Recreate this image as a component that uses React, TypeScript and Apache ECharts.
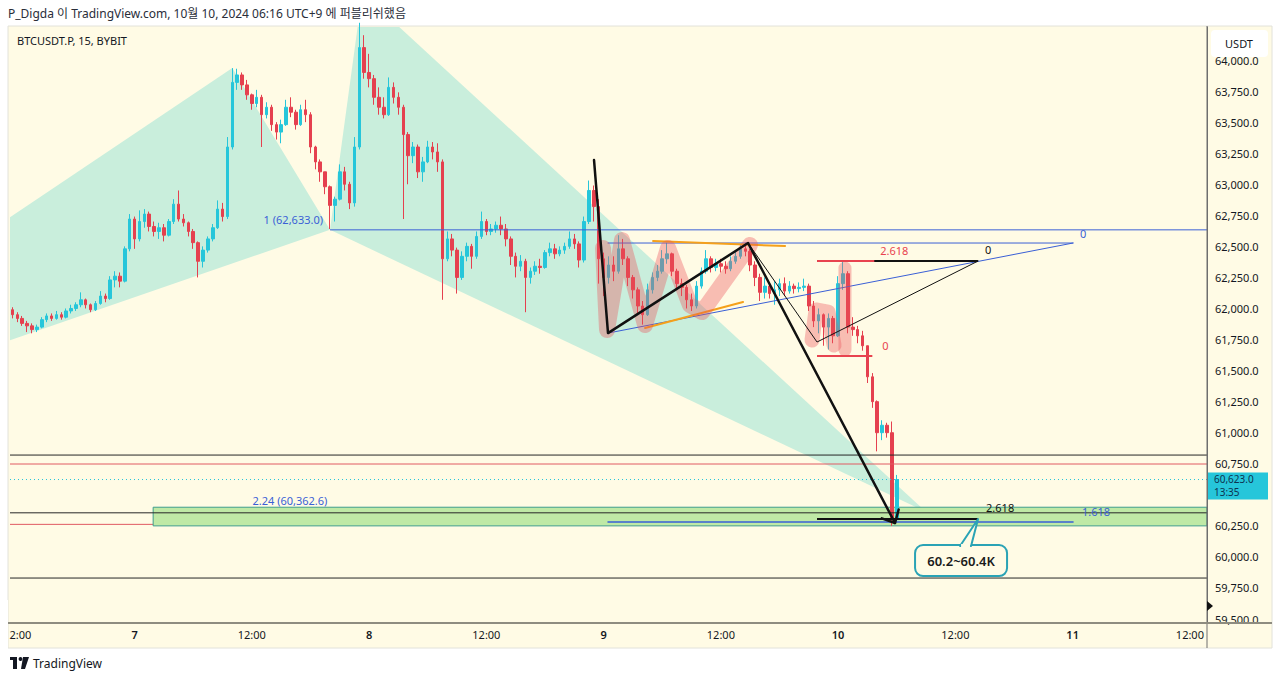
import React, { useEffect, useRef } from "react";
import * as echarts from "echarts";

// ---------- DATA (30-minute candles, hours counted from Oct 6 00:00, UTC+9) ----------
const firstOpen = 61990;
const closes = [
  61950, 61920, 61880, 61860, 61830, 61850, 61910, 61940, 61920, 61950,
  61930, 61980, 62000, 62030, 62070, 62030, 61990, 62040, 62100, 62080,
  62230, 62260, 62220, 62480, 62720, 62560, 62700, 62760, 62660, 62620,
  62650, 62590, 62700, 62840, 62720, 62690, 62620, 62530, 62380, 62470,
  62560, 62650, 62800, 62740, 63300, 63820, 63880, 63800, 63720, 63650,
  63700, 63560, 63620, 63480, 63420, 63480, 63620, 63580, 63480, 63600,
  63560, 63300, 63180, 63100, 62980, 62830, 62880, 63100, 63000, 62850,
  63300, 64100, 63900, 63850, 63700, 63620, 63560, 63780, 63700, 63620,
  63400, 63230, 63300, 63100, 63180, 63300, 63260, 63180, 62400, 62560,
  62470, 62250, 62420, 62500, 62420, 62580, 62700, 62620, 62640, 62670,
  62640, 62560, 62420, 62340, 62380, 62250, 62300, 62340, 62330, 62450,
  62480, 62440, 62470, 62500, 62560, 62520, 62390, 62700, 62950, 62820,
  62400, 62250, 62350, 62300, 62480, 62400, 62250, 62150, 62020, 61950,
  62150, 62250, 62300, 62400, 62440, 62300, 62200, 62170, 62070, 62020,
  62180, 62300, 62400, 62330, 62360, 62340, 62320, 62380, 62420, 62480,
  62460, 62350, 62250, 62130, 62180, 62120, 62150, 62200, 62140, 62180,
  62160, 62170, 62180, 62020, 61900, 61950, 61850, 61920, 61780, 62200,
  62280, 61850, 61830, 61780, 61700, 61450, 61250, 61000, 61060, 61000,
  60300, 60623,
];
const lows = [
  61920, 61890, 61860, 61810, 61800, 61810, 61840, 61890, 61900, 61910,
  61910, 61920, 61960, 61980, 62010, 62000, 61970, 61980, 62030, 62050,
  62070, 62170, 62170, 62210, 62460, 62480, 62540, 62650, 62620, 62580,
  62560, 62540, 62580, 62680, 62700, 62660, 62580, 62480, 62250, 62330,
  62450, 62540, 62640, 62700, 62720, 63280, 63760, 63760, 63680, 63600,
  63620, 63300, 63530, 63430, 63360, 63330, 63470, 63540, 63440, 63470,
  63500, 63250, 63120, 63020, 62920, 62640, 62700, 62870, 62950, 62800,
  62820, 63280, 63850, 63780, 63640, 63560, 63530, 63550, 63650, 63560,
  62720, 63000, 63170, 63050, 63020, 63170, 63200, 63100, 62070, 62380,
  62420, 62120, 62230, 62380, 62320, 62400, 62560, 62590, 62590, 62610,
  62590, 62500, 62350, 62250, 62300, 61970, 62200, 62270, 62280, 62320,
  62420, 62400, 62420, 62440, 62480, 62480, 62330, 62370, 62680, 62700,
  62200, 62100, 62200, 62220, 62280, 62350, 62180, 62080, 61950, 61870,
  61940, 62120, 62220, 62280, 62360, 62260, 62150, 62100, 62000, 61980,
  62000, 62160, 62280, 62290, 62300, 62290, 62280, 62300, 62360, 62400,
  62420, 62300, 62180, 62060, 62080, 62080, 62030, 62100, 62100, 62120,
  62120, 62130, 62140, 61980, 61850, 61800, 61700, 61670, 61720, 61770,
  62150, 61800, 61780, 61720, 61660, 61400, 61200, 60850, 60940, 60960,
  60250, 60280,
];
const highs = [
  62010, 61970, 61940, 61900, 61880, 61870, 61930, 61960, 61960, 61980,
  61970, 62000, 62030, 62050, 62130, 62080, 62040, 62060, 62140, 62120,
  62260, 62300, 62290, 62500, 62760, 62740, 62790, 62800, 62780, 62700,
  62690, 62680, 62720, 62880, 62950, 62760, 62700, 62640, 62540, 62500,
  62580, 62680, 62870, 62850, 63380, 63935, 63930, 63900, 63840, 63730,
  63760, 63720, 63660, 63640, 63500, 63520, 63680, 63700, 63600, 63640,
  63680, 63580, 63310, 63200, 63100, 62990, 62900, 63160, 63140, 63020,
  63380, 64300, 64200, 64050, 63880, 63780, 63700, 63860, 63820, 63740,
  63640, 63420, 63340, 63320, 63220, 63350, 63340, 63330, 63200, 62620,
  62600, 62490, 62460, 62530, 62520, 62620, 62780, 62720, 62680, 62700,
  62740, 62680, 62580, 62450, 62430, 62400, 62330, 62380, 62400, 62470,
  62530, 62520, 62500, 62530, 62620, 62600, 62540, 62740, 63030, 62990,
  62880, 62450, 62420, 62420, 62590, 62560, 62420, 62270, 62170, 62060,
  62200, 62290, 62350, 62470, 62530, 62450, 62320, 62240, 62190, 62120,
  62220, 62330, 62470, 62420, 62400, 62400, 62380, 62420, 62470, 62510,
  62530, 62480, 62380, 62280, 62250, 62200, 62220, 62240, 62250, 62220,
  62200, 62210, 62240, 62200, 62060, 62000, 61960, 61960, 61940, 62260,
  62380, 62300, 61930, 61860, 61820, 61700, 61480, 61260, 61100, 61080,
  61090, 60660,
];

const slotStart = 11.5; // first slot: Oct 6 11:30
const slotStep = 0.5; // 30 minutes
const slotCount = 245; // axis runs to Oct 11 13:30
// 60,500 is hidden behind the last-price label in the reference
const priceTicks = [
  59500, 59750, 60000, 60250, 60750, 61000, 61250, 61500, 61750,
  62000, 62250, 62500, 62750, 63000, 63250, 63500, 63750, 64000,
];
const lastPrice = 60623.0;
const countdown = "13:35";

// drawn levels (price)
const fibOneLevel = 62633.0;
const fibExtLevel = 60362.6;
const zoneLow = 60250;
const zoneHigh = 60400;
const blackLevels = [60820, 60355, 59830];
const redLevels = [60748];
const redLowLevel = 60262;

// drawing anchors [hours, price]
const ptX = [-27.3, 60700];
const ptA = [34.0, 63935];
const ptB = [44.0, 62633];
const ptC = [47.3, 64540];
const ptD = [105.0, 60362.6];
const zigzag = [
  [71.02, 63195],
  [72.45, 61802],
  [86.78, 62527],
  [101.82, 60273],
];
const triLow = [72.45, 61802];
const triHigh = [120.04, 62527];
const triBottom = 60281;
const orangeTop = [
  [77.06, 62543],
  [90.57, 62503],
];
const orangeBottom = [
  [76.24, 61843],
  [86.27, 62052],
];
const pinkWave = [
  [71.94, 62487],
  [72.35, 61827],
  [73.88, 62551],
  [76.24, 61867],
  [78.59, 62487],
  [80.84, 62028],
  [82.07, 61971],
  [86.98, 62511],
];
const pinkBlob = [
  [93.33, 61746],
  [93.74, 61988],
  [94.97, 61971],
  [95.58, 61706],
];
const pinkBar = [
  [96.7, 62326],
  [96.7, 61666],
];
const smallTri = [
  [86.78, 62527],
  [93.84, 61730],
  [110.32, 62382],
];
const redFibTop = 62382;
const redFibBottom = 61617;
const redFibEnd = 99.7;
const blackFibStart = 93.84;
const blackFibEnd = 110.32;
const blackFibTop = 62382;
const blackFibBottom = 60305;

// ---------- helpers ----------
const BG = "#fffbe5";
const MINT = "#c9eedc";
const BLUE = "#3a5fd6";
const FONT = "'Noto Sans', 'Noto Sans CJK KR', sans-serif";
const xMin = slotStart - slotStep / 2;
const xMax = slotStart + slotStep * (slotCount - 1) + slotStep / 2;
const yMin = 59468;
const yMax = 64266;

const fmtPrice = (v: number) =>
  v.toLocaleString("en-US", { minimumFractionDigits: 1, maximumFractionDigits: 1 });

const timeLabel = (t: number) => {
  const m = ((t % 24) + 24) % 24;
  if (m === 0) return "{d|" + (6 + Math.round(t / 24)) + "}";
  if (m === 12) return "12:00";
  return "";
};

function txt(x: number, y: number, text: string, fill: string, align = "left", size = 11, weight = "normal") {
  return {
    type: "text",
    x,
    y,
    style: {
      text,
      fill,
      font: `${weight} ${size}px ${FONT}`,
      align,
      verticalAlign: "middle",
      textAlign: align,
      textVerticalAlign: "middle",
    },
  };
}

export default function App() {
  const ref = useRef<HTMLDivElement>(null);

  useEffect(() => {
    if (!ref.current) return;
    const chart = echarts.init(ref.current, null, { renderer: "svg" });

    const categories = Array.from({ length: slotCount }, (_, i) => String(slotStart + i * slotStep));
    const candles = closes.map((c, i) => [i === 0 ? firstOpen : closes[i - 1], c, lows[i], highs[i]]);

    const renderFills = (params: any, api: any) => {
      const c = (p: number[]) => api.coord(p);
      const z0 = c([xMin, zoneHigh]);
      const z1 = c([xMax, zoneLow]);
      const zs = c([25.9, zoneHigh]);
      const r0 = c([xMin, redLowLevel]);
      const r1 = c([xMax, redLowLevel]);
      return {
        type: "group",
        children: [
          { type: "polygon", shape: { points: [ptX, ptA, ptB].map(c) }, style: { fill: MINT } },
          { type: "polygon", shape: { points: [ptB, ptC, ptD].map(c) }, style: { fill: MINT } },
          { type: "line", shape: { x1: r0[0], y1: r0[1], x2: r1[0], y2: r1[1] }, style: { stroke: "#e05a62", lineWidth: 1 } },
          {
            type: "rect",
            shape: { x: zs[0], y: z0[1], width: z1[0] - zs[0], height: z1[1] - z0[1] },
            style: { fill: "#bfe9a6", stroke: "#3f9d8c", lineWidth: 1 },
          },
        ],
      };
    };

    const renderLines = (params: any, api: any) => {
      const c = (p: number[]) => api.coord(p);
      const ch: any[] = [];
      const poly = (pts: number[][], stroke: string, lw: number, extra: any = {}) =>
        ch.push({
          type: "polyline",
          shape: { points: pts.map(c) },
          style: { stroke, lineWidth: lw, fill: null, lineCap: "round", lineJoin: "round", ...extra },
        });
      // full-width horizontal levels
      blackLevels.forEach((p) => poly([[xMin, p], [xMax, p]], "#262626", 1, { lineCap: "butt" }));
      redLevels.forEach((p) => poly([[xMin, p], [xMax, p]], "#e05a62", 1, { lineCap: "butt" }));
      poly([[xMin, lastPrice], [xMax, lastPrice]], "#26c6da", 1, { lineDash: [1, 3], lineCap: "butt" });
      // fib "1" line
      poly([[ptB[0], fibOneLevel], [xMax, fibOneLevel]], BLUE, 1, { lineCap: "butt" });
      const bP = c([ptB[0], fibOneLevel]);
      ch.push(txt(bP[0] - 7, bP[1] - 10, "1 (62,633.0)", BLUE, "right"));
      const eP = c([39.9, fibExtLevel]);
      ch.push(txt(eP[0], eP[1] - 11, "2.24 (60,362.6)", BLUE, "center"));
      // blue triangle
      poly([triLow, triHigh], BLUE, 1);
      poly([[triLow[0], triHigh[1]], triHigh], BLUE, 1);
      poly([[triLow[0], triBottom], [triHigh[0], triBottom]], BLUE, 1.5);
      const tH = c(triHigh);
      ch.push(txt(tH[0] + 7, tH[1] - 10, "0", BLUE, "left"));
      const tB = c([triHigh[0], triBottom]);
      ch.push(txt(tB[0] + 9, tB[1] - 11, "1.618", BLUE, "left"));
      // orange lines
      poly(orangeTop, "#f5a01a", 2);
      poly(orangeBottom, "#f5a01a", 2);
      // pink highlighter
      poly(pinkWave, "rgba(236, 80, 90, 0.36)", 16);
      poly(pinkBlob, "rgba(236, 80, 90, 0.36)", 15);
      poly(pinkBar, "rgba(236, 80, 90, 0.36)", 13);
      // black zigzag with arrow
      poly(zigzag, "#111111", 2.5);
      const tip = c(zigzag[3]);
      const prev = c(zigzag[2]);
      const dx = tip[0] - prev[0];
      const dy = tip[1] - prev[1];
      const len = Math.hypot(dx, dy);
      const bx = -dx / len;
      const by = -dy / len;
      const wing = (a: number) => [tip[0] + 14 * (bx * Math.cos(a) - by * Math.sin(a)), tip[1] + 14 * (bx * Math.sin(a) + by * Math.cos(a))];
      ch.push({
        type: "polyline",
        shape: { points: [wing(0.75), tip, wing(-0.75)] },
        style: { stroke: "#111111", lineWidth: 2.5, fill: null, lineCap: "round", lineJoin: "round" },
      });
      // thin black triangle
      poly(smallTri, "#111111", 1);
      // black fib lines
      poly([[blackFibStart, blackFibTop], [blackFibEnd, blackFibTop]], "#111111", 2, { lineCap: "butt" });
      poly([[blackFibStart, blackFibBottom], [blackFibEnd, blackFibBottom]], "#111111", 2, { lineCap: "butt" });
      // red fib lines
      poly([[blackFibStart, redFibTop], [redFibEnd, redFibTop]], "#e8434f", 2, { lineCap: "butt" });
      poly([[blackFibStart, redFibBottom], [redFibEnd - 0.2, redFibBottom]], "#e8434f", 2, { lineCap: "butt" });
      const rT = c([redFibEnd, redFibTop]);
      ch.push(txt(rT[0] + 6, rT[1] - 11, "2.618", "#e8434f", "left"));
      const rB = c([redFibEnd, redFibBottom]);
      ch.push(txt(rB[0] + 8, rB[1] - 11, "0", "#e8434f", "left"));
      const kT = c([blackFibEnd, blackFibTop]);
      ch.push(txt(kT[0] + 7, kT[1] - 12, "0", "#111111", "left"));
      const kB = c([blackFibEnd, blackFibBottom]);
      ch.push(txt(kB[0] + 8, kB[1] - 12, "2.618", "#111111", "left"));
      // callout
      const bxl = kB[0] - 63;
      const byt = kB[1] + 26;
      ch.push({
        type: "rect",
        shape: { x: bxl, y: byt, width: 92, height: 31, r: 8 },
        style: { fill: BG, stroke: "#2aa3b5", lineWidth: 2 },
      });
      ch.push({
        type: "polygon",
        shape: { points: [[kB[0] - 18, byt + 1], kB, [kB[0] - 7, byt + 1]] },
        style: { fill: BG, stroke: "#2aa3b5", lineWidth: 2, lineJoin: "round" },
      });
      ch.push({
        type: "rect",
        shape: { x: kB[0] - 17, y: byt - 1, width: 9, height: 4 },
        style: { fill: BG },
      });
      ch.push(txt(bxl + 46, byt + 16, "60.2~60.4K", "#1b1b1b", "center", 13, "600"));
      return { type: "group", children: ch };
    };

    chart.setOption({
      animation: false,
      backgroundColor: "transparent",
      textStyle: { fontFamily: FONT },
      grid: { left: 10, right: 73, top: 27, bottom: 58, containLabel: false },
      xAxis: [
        {
          type: "category",
          data: categories,
          boundaryGap: true,
          axisLine: { show: true, lineStyle: { color: "#8e8c80", width: 2 } },
          axisTick: { show: false },
          splitLine: { show: false },
          axisLabel: {
            interval: (i: number, v: string) => timeLabel(Number(v)) !== "",
            formatter: (v: string) => timeLabel(Number(v)),
            color: "#131722",
            fontSize: 11,
            margin: 6,
            fontFamily: FONT,
            rich: { d: { fontWeight: 600, fontSize: 11, color: "#131722", fontFamily: FONT } },
          },
        },
        { type: "value", min: xMin, max: xMax, show: false },
      ],
      yAxis: {
        type: "value",
        position: "right",
        min: yMin,
        max: yMax,
        splitLine: { show: false },
        axisLine: { show: true, lineStyle: { color: "#6f6f6f", width: 1 } },
        axisTick: { show: false, customValues: priceTicks },
        axisLabel: {
          customValues: priceTicks,
          formatter: (v: number) => fmtPrice(v),
          color: "#131722",
          fontSize: 11,
          margin: 8,
          fontFamily: FONT,
        },
      },
      series: [
        {
          type: "custom",
          xAxisIndex: 1,
          yAxisIndex: 0,
          z: 1,
          clip: true,
          silent: true,
          data: [[xMin, yMin]],
          renderItem: renderFills,
        },
        {
          type: "candlestick",
          xAxisIndex: 0,
          yAxisIndex: 0,
          z: 2,
          barWidth: 3,
          data: candles,
          itemStyle: {
            color: "#26c6da",
            color0: "#e5404f",
            borderColor: "#26c6da",
            borderColor0: "#e5404f",
            borderWidth: 1,
          },
        },
        {
          type: "custom",
          xAxisIndex: 1,
          yAxisIndex: 0,
          z: 3,
          clip: true,
          silent: true,
          data: [[xMin, yMin]],
          renderItem: renderLines,
        },
      ],
    });

    const yp = chart.convertToPixel({ yAxisIndex: 0 }, lastPrice) as number;

    chart.setOption({
      graphic: [
        { type: "rect", z: -10, silent: true, shape: { x: 8, y: 26, width: 1264, height: 622 }, style: { fill: BG, stroke: "#e2e2da", lineWidth: 1 } },
        { type: "line", z: 50, silent: true, shape: { x1: 1207, y1: 26, x2: 1207, y2: 648 }, style: { stroke: "#6f6f6f", lineWidth: 1 } },
        { type: "line", z: 50, silent: true, shape: { x1: 8, y1: 623, x2: 1272, y2: 623 }, style: { stroke: "#8e8c80", lineWidth: 2 } },
        { type: "rect", z: 60, silent: true, shape: { x: 0, y: 600, width: 8, height: 60 }, style: { fill: "#ffffff" } },
        { type: "text", z: 60, silent: true, x: 8, y: 13, style: { text: "P_Digda 이 TradingView.com, 10월 10, 2024 06:16 UTC+9 에 퍼블리쉬했음", fill: "#2a2e39", font: `12px ${FONT}`, verticalAlign: "middle", textVerticalAlign: "middle" } },
        { type: "text", z: 60, silent: true, x: 17, y: 40, style: { text: "BTCUSDT.P, 15, BYBIT", fill: "#131722", font: `11px ${FONT}`, verticalAlign: "middle", textVerticalAlign: "middle" } },
        { type: "rect", z: 60, silent: true, shape: { x: 1211, y: 30, width: 57, height: 27, r: 4 }, style: { fill: "#ffffff" } },
        { type: "text", z: 61, silent: true, x: 1239, y: 43, style: { text: "USDT", fill: "#131722", font: `11px ${FONT}`, align: "center", textAlign: "center", verticalAlign: "middle", textVerticalAlign: "middle" } },
        { type: "rect", z: 60, silent: true, shape: { x: 1208, y: yp - 7, width: 60, height: 27 }, style: { fill: "#26c6da" } },
        { type: "text", z: 61, silent: true, x: 1214, y: yp - 0.5, style: { text: fmtPrice(lastPrice), fill: "#0d3350", font: `10px ${FONT}`, verticalAlign: "middle", textVerticalAlign: "middle" } },
        { type: "text", z: 61, silent: true, x: 1214, y: yp + 12.5, style: { text: countdown, fill: "#0d3350", font: `10px ${FONT}`, verticalAlign: "middle", textVerticalAlign: "middle" } },
        { type: "polygon", z: 60, silent: true, shape: { points: [[1207, 601], [1213, 606], [1207, 611]] }, style: { fill: "#111111" } },
        { type: "rect", z: 60, silent: true, shape: { x: 10, y: 657, width: 7, height: 3 }, style: { fill: "#131722" } },
        { type: "rect", z: 60, silent: true, shape: { x: 13, y: 657, width: 4, height: 12 }, style: { fill: "#131722" } },
        { type: "circle", z: 60, silent: true, shape: { cx: 20.5, cy: 659, r: 1.9 }, style: { fill: "#131722" } },
        { type: "polygon", z: 60, silent: true, shape: { points: [[23, 657], [29, 657], [25, 669], [21, 669]] }, style: { fill: "#131722" } },
        { type: "text", z: 60, silent: true, x: 33, y: 663, style: { text: "TradingView", fill: "#131722", font: `12px ${FONT}`, verticalAlign: "middle", textVerticalAlign: "middle" } },
      ],
    });

    return () => chart.dispose();
  }, []);

  return (
    <div
      ref={ref}
      style={{ position: "fixed", left: 0, top: 0, width: 1280, height: 681, background: "#ffffff" }}
    />
  );
}
